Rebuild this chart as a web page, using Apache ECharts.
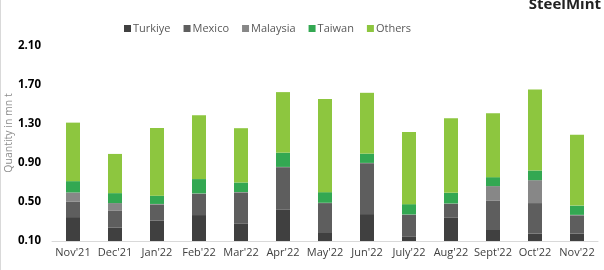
<!DOCTYPE html>
<html>
<head>
<meta charset="utf-8">
<script src="https://cdn.jsdelivr.net/npm/echarts@6/dist/echarts.min.js"></script>
<style>
html,body{margin:0;padding:0;background:#fff;}
#c{width:604px;height:270px;}
</style>
</head>
<body>
<div id="c"></div>
<script>
var categories = ["Nov'21","Dec'21","Jan'22","Feb'22","Mar'22","Apr'22","May'22","Jun'22","July'22","Aug'22","Sept'22","Oct'22","Nov'22"];
var turkiye  = [0.345,0.236,0.308,0.366,0.281,0.420,0.182,0.376,0.148,0.338,0.213,0.175,0.175];
var mexico   = [0.157,0.178,0.167,0.218,0.317,0.437,0.307,0.522,0.221,0.144,0.299,0.314,0.188];
var malaysia = [0.096,0.075,0.005,0.004,0.004,0.003,0.003,0.003,0.003,0.003,0.151,0.235,0.005];
var taiwan   = [0.116,0.102,0.085,0.147,0.098,0.146,0.109,0.095,0.106,0.109,0.092,0.099,0.095];
var others   = [0.600,0.402,0.693,0.655,0.557,0.621,0.955,0.624,0.740,0.764,0.654,0.832,0.726];
var yTicks = [0.10,0.50,0.90,1.30,1.70,2.10];

var seriesNames = ["Turkiye","Mexico","Malaysia","Taiwan","Others"];
var seriesData = [turkiye, mexico, malaysia, taiwan, others];
var colors = ["#404040","#5e5e5e","#878787","#33a852","#8dc63f"];

var chart = echarts.init(document.getElementById('c'), null, {renderer:'canvas'});
chart.setOption({
  animation:false,
  color:colors,
  textStyle:{fontFamily:"Open Sans"},
  legend:{
    top:18, left:119, itemWidth:7, itemHeight:7, itemGap:13,
    icon:'rect',
    textStyle:{fontSize:11, color:'#595959', fontFamily:'Open Sans', padding:[0,0,0,-3]},
    data:seriesNames
  },
  grid:{left:52, right:6, top:46, bottom:29, containLabel:false},
  xAxis:{
    type:'category', data:categories,
    axisLine:{lineStyle:{color:'#d9d9d9'}},
    axisTick:{show:false},
    axisLabel:{fontSize:11, color:'#404040', margin:6, interval:0, fontFamily:'Open Sans'}
  },
  yAxis:{
    type:'value', min:yTicks[0], max:yTicks[yTicks.length-1], interval:0.4,
    splitLine:{show:false},
    axisLine:{show:false}, axisTick:{show:false},
    axisLabel:{fontSize:11.5, fontWeight:'bold', color:'#000', margin:11, fontFamily:'Open Sans',
      formatter:function(v){return v.toFixed(2);}}
  },
  graphic:[
    {type:'text', x:9, y:133, rotation:Math.PI/2, z:10,
     style:{text:'Quantity in mn t', fontSize:10.5, fill:'#8c8c8c', fontFamily:'Open Sans', align:'center', verticalAlign:'middle'}},
    {type:'text', right:3, top:-3, style:{text:'SteelMint', fontSize:15, fontWeight:'bold', fill:'#222', fontFamily:'Open Sans'}},
    {type:'rect', shape:{x:0, y:0, width:1, height:270}, style:{fill:'#d9d9d9'}}
  ],
  series: seriesNames.map(function(n,i){
    return {name:n, type:'bar', stack:'s', barWidth:14, data:seriesData[i],
      itemStyle:{color:colors[i]}};
  })
});
</script>
</body>
</html>
